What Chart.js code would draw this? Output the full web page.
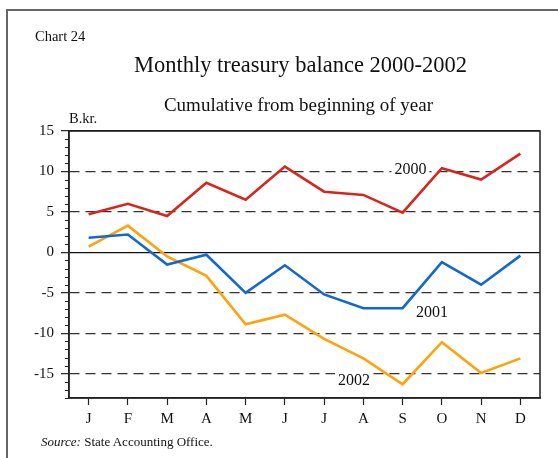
<!DOCTYPE html>
<html>
<head>
<meta charset="utf-8">
<script src="https://cdn.jsdelivr.net/npm/chart.js@4.4.0/dist/chart.umd.min.js"></script>
<style>
    body { margin: 0; background: #fff; }
    #wrap { position: relative; width: 558px; height: 458px; overflow: hidden; font-family: "Liberation Serif", "Times New Roman", serif; color: #111; }
    #frame { position: absolute; left: 6px; top: 9px; width: 600px; height: 500px; border-top: 2px solid #666; border-left: 2px solid #666; }
    .txt { position: absolute; white-space: nowrap; line-height: 1; }
    #chart-num { left: 35px; top: 29px; font-size: 14.5px; }
    #title { left: 0; width: 601px; top: 54px; font-size: 22.5px; text-align: center; }
    #subtitle { left: 0; width: 597px; top: 95px; font-size: 19px; text-align: center; }
    #unit { left: 69px; top: 110.5px; font-size: 14.5px; }
    #source { left: 41px; top: 435px; font-size: 13px; }
    canvas { position: absolute; left: 0; top: 0; }
</style>
</head>
<body>
<div id="wrap">
    <div id="frame"></div>
    <canvas id="treasury-chart" width="558" height="458"></canvas>
    <div class="txt" id="chart-num">Chart 24</div>
    <div class="txt" id="title">Monthly treasury balance 2000-2002</div>
    <div class="txt" id="subtitle">Cumulative from beginning of year</div>
    <div class="txt" id="unit">B.kr.</div>
    <div class="txt" id="source"><i>Source:</i> State Accounting Office.</div>
</div>
<script>
// --- Dados ---
const months = ['J', 'F', 'M', 'A', 'M', 'J', 'J', 'A', 'S', 'O', 'N', 'D'];
const seriesNames = ['2000', '2001', '2002'];
const balance2000 = [4.7, 6.0, 4.5, 8.6, 6.5, 10.6, 7.5, 7.1, 4.9, 10.4, 9.0, 12.2];
const balance2001 = [1.8, 2.2, -1.5, -0.3, -5.0, -1.6, -5.2, -6.9, -6.9, -1.2, -4.0, -0.4];
const balance2002 = [0.7, 3.3, -0.5, -2.9, -8.9, -7.7, -10.7, -13.1, -16.3, -11.1, -14.9, -13.1];
const yMin = -18;
const yMax = 15;
const yLabelStep = 5;

const seriesColors = ['#d7261e', '#1268cf', '#ffa20c'];
const FONT = '"Liberation Serif", "Times New Roman", serif';

// --- Rótulos das séries (posição em coordenadas dos dados) ---
const seriesLabelPos = [[8.2, 10.3], [8.75, -7.3], [6.76, -15.8]];

const seriesLabels = {
    id: 'seriesLabels',
    beforeDatasetsDraw(chart) {
        const { ctx, scales: { x, y } } = chart;
        ctx.save();
        ctx.font = '16px ' + FONT;
        ctx.textAlign = 'center';
        ctx.textBaseline = 'middle';
        seriesNames.forEach((name, i) => {
            const px = x.getPixelForValue(seriesLabelPos[i][0]);
            const py = y.getPixelForValue(seriesLabelPos[i][1]);
            const w = ctx.measureText(name).width;
            ctx.fillStyle = '#fff';
            ctx.fillRect(px - w / 2 - 3, py - 8, w + 6, 16);
            ctx.fillStyle = '#111';
            ctx.fillText(name, px, py + 1);
        });
        ctx.restore();
    }
};

// --- Moldura e ticks menores ---
const plotFrame = {
    id: 'plotFrame',
    afterDraw(chart) {
        const { ctx, chartArea: a, scales: { y } } = chart;
        ctx.save();
        ctx.strokeStyle = '#222';
        ctx.lineWidth = 1.5;
        ctx.strokeRect(a.left, a.top, a.right - a.left, a.bottom - a.top);
        ctx.lineWidth = 1.2;
        ctx.beginPath();
        for (let v = yMin; v <= yMax; v++) {
            if (v % yLabelStep === 0) continue;
            const py = Math.round(y.getPixelForValue(v)) + 0.5;
            ctx.moveTo(a.left - 4, py);
            ctx.lineTo(a.left, py);
        }
        ctx.stroke();
        ctx.restore();
    }
};

const isMajor = v => v % yLabelStep === 0 && v !== yMin;

new Chart(document.getElementById('treasury-chart'), {
    type: 'line',
    data: {
        labels: months,
        datasets: [balance2000, balance2001, balance2002].map((d, i) => ({
            label: seriesNames[i],
            data: d,
            borderColor: seriesColors[i],
            borderWidth: 2.6,
            pointRadius: 0,
            tension: 0,
            fill: false
        }))
    },
    options: {
        responsive: false,
        animation: false,
        layout: { padding: { left: 0, top: 131, right: 18, bottom: 20 } },
        plugins: { legend: { display: false }, tooltip: { enabled: false } },
        scales: {
            x: {
                offset: true,
                afterFit(scale) { scale.height = 40; },
                grid: { drawOnChartArea: false, drawTicks: true, tickLength: 7, tickColor: '#222', tickWidth: 1.2, offset: false },
                border: { display: true, color: '#222', width: 1.5 },
                ticks: { color: '#111', font: { family: FONT, size: 15 }, padding: 5, autoSkip: false, maxRotation: 0 }
            },
            y: {
                min: yMin,
                max: yMax,
                afterFit(scale) { scale.width = 69; },
                ticks: {
                    stepSize: 1,
                    autoSkip: false,
                    color: '#111',
                    font: { family: FONT, size: 15 },
                    padding: 7,
                    callback: v => (v % yLabelStep === 0 ? String(v) : '')
                },
                grid: {
                    drawTicks: true,
                    tickLength: 8,
                    lineWidth: 1.3,
                    tickWidth: 1.2,
                    color: ctx => {
                        const v = ctx.tick.value;
                        if (v === 0 || v === yMax) return '#111';
                        return isMajor(v) ? '#333' : 'rgba(0,0,0,0)';
                    },
                    tickColor: ctx => (isMajor(ctx.tick.value) ? '#222' : 'rgba(0,0,0,0)')
                },
                border: {
                    display: true,
                    color: '#222',
                    width: 1.5,
                    dash: ctx => {
                        const v = ctx.tick ? ctx.tick.value : 0;
                        return (v === 0 || v === yMax) ? [] : [10, 6];
                    }
                }
            }
        }
    },
    plugins: [seriesLabels, plotFrame]
});
</script>
</body>
</html>
